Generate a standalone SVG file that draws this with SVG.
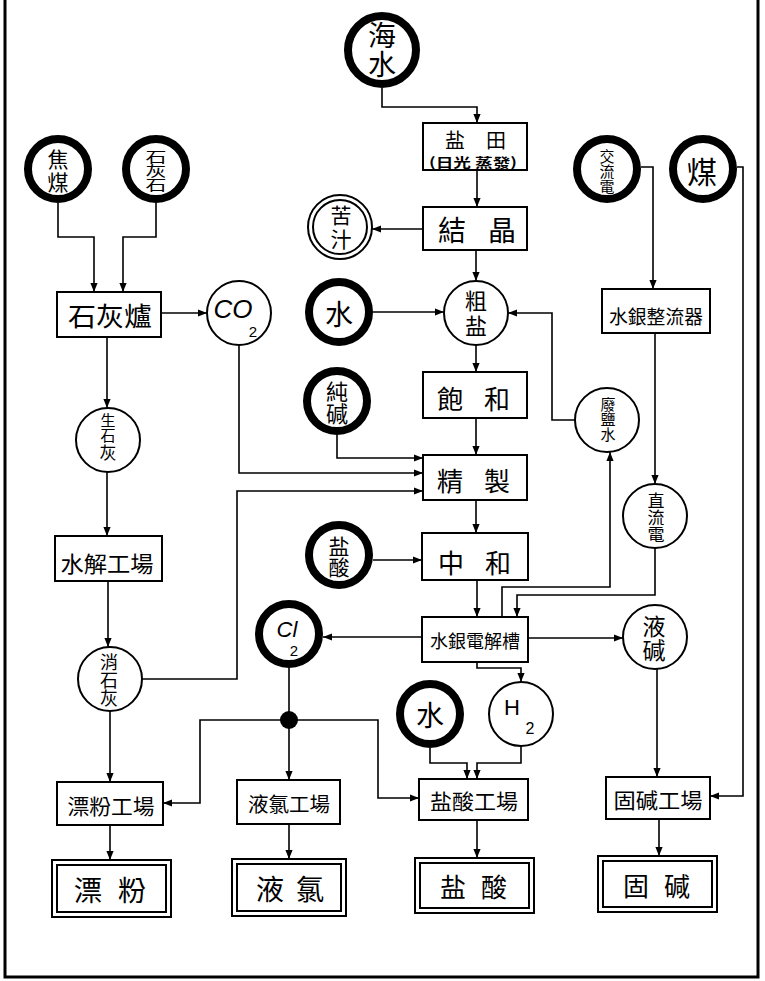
<svg xmlns="http://www.w3.org/2000/svg" width="765" height="981" viewBox="0 0 765 981">
<style>
.bx{fill:#fff;stroke:#000;stroke-width:2}
.th{fill:#fff;stroke:#000;stroke-width:8}
.tn{fill:#fff;stroke:#000;stroke-width:2}
.ln{fill:none;stroke:#000;stroke-width:1.6}
.ar{marker-end:url(#a)}
text{font-family:"Noto Sans CJK TC","Noto Sans CJK SC",sans-serif;fill:#000;text-anchor:middle;dominant-baseline:central}
.lat{font-family:"Liberation Sans",sans-serif}
</style>
<defs>
<marker id="a" viewBox="0 0 10 10" refX="10" refY="5" markerWidth="9" markerHeight="9" orient="auto" markerUnits="userSpaceOnUse"><path d="M0,1 L10,5 L0,9 z" fill="#000"/></marker>
</defs>
<rect width="765" height="981" fill="#fff"/>
<path d="M5,0 V977 H758 V0" fill="none" stroke="#000" stroke-width="3"/>

<g id="connectors">
<path class="ln ar" d="M382,88 V107 H477 V123"/>
<path class="ln ar" d="M477,170 V207"/>
<path class="ln ar" d="M423,229 H372"/>
<path class="ln ar" d="M476,250 V281"/>
<path class="ln ar" d="M373,312 H444"/>
<path class="ln ar" d="M575,420 H552 V313 H508"/>
<path class="ln ar" d="M476,345 V372"/>
<path class="ln ar" d="M476,418 V455"/>
<path class="ln ar" d="M337,435 V458 H423"/>
<path class="ln ar" d="M239,345 V473 H423"/>
<path class="ln ar" d="M142,679 H237 V491 H423"/>
<path class="ln ar" d="M476,500 V533"/>
<path class="ln ar" d="M373,560 H422"/>
<path class="ln ar" d="M477,580 V617"/>
<path class="ln ar" d="M422,637 H323"/>
<path class="ln ar" d="M502,617 V587 H610 V452"/>
<path class="ln ar" d="M655,548 V595 H517 V617"/>
<path class="ln ar" d="M528,638 H623"/>
<path class="ln ar" d="M477,662 V668 H521 V682"/>
<path class="ln ar" d="M430,748 V763 H467 V779"/>
<path class="ln ar" d="M521,746 V763 H477 V779"/>
<path class="ln" d="M289,668 V720"/>
<path class="ln ar" d="M289,720 H200 V803 H163"/>
<path class="ln ar" d="M289,720 V780"/>
<path class="ln ar" d="M289,720 H378 V798 H419"/>
<circle cx="289" cy="720" r="9" fill="#000"/>
<path class="ln ar" d="M110,825 V860"/>
<path class="ln ar" d="M289,824 V859"/>
<path class="ln ar" d="M477,820 V858"/>
<path class="ln ar" d="M58,203 V237 H94 V292"/>
<path class="ln ar" d="M156,203 V237 H123 V292"/>
<path class="ln ar" d="M161,313 H207"/>
<path class="ln ar" d="M107,337 V408"/>
<path class="ln ar" d="M107,472 V536"/>
<path class="ln ar" d="M108,581 V647"/>
<path class="ln ar" d="M110,711 V782"/>
<path class="ln ar" d="M641,167 H653 V289"/>
<path class="ln ar" d="M655,333 V484"/>
<path class="ln ar" d="M657,669 V777"/>
<path class="ln ar" d="M737,167 H743 V796 H710"/>
<path class="ln ar" d="M659,819 V856"/>
</g>

<g id="haishui"><circle class="th" cx="382" cy="50" r="34"/><text font-size="28"><tspan x="382" y="34">海</tspan><tspan x="382" y="63">水</tspan></text></g>
<g id="yantian"><rect class="bx" x="423" y="123" width="104" height="47"/><text x="455 496" y="139" font-size="20">盐田</text><text x="473" y="161" font-size="13" font-weight="bold" textLength="88" lengthAdjust="spacingAndGlyphs">(日光 蒸發)</text></g>
<g id="jiejing"><rect class="bx" x="423" y="207" width="104" height="43"/><text x="452 502" y="229" font-size="28">結晶</text></g>
<g id="kuzhi"><circle class="tn" cx="340" cy="227" r="32"/><circle class="tn" cx="340" cy="227" r="27"/><text font-size="21"><tspan x="341" y="214">苦</tspan><tspan x="341" y="238">汁</tspan></text></g>
<g id="shui1"><circle class="th" cx="339" cy="312" r="30"/><text x="339" y="313" font-size="28">水</text></g>
<g id="cuyan"><circle class="tn" cx="476" cy="313" r="32"/><text font-size="22"><tspan x="476" y="299">粗</tspan><tspan x="476" y="324">盐</tspan></text></g>
<g id="feiyanshui"><circle class="tn" cx="607" cy="420" r="32"/><text font-size="15"><tspan x="608" y="403">廢</tspan><tspan x="608" y="418">鹽</tspan><tspan x="608" y="433">水</tspan></text></g>
<g id="baohe"><rect class="bx" x="423" y="372" width="104" height="46"/><text x="450 497" y="397" font-size="26">飽和</text></g>
<g id="chunjian"><circle class="th" cx="337" cy="401" r="30"/><text font-size="22"><tspan x="337" y="390">純</tspan><tspan x="337" y="412">碱</tspan></text></g>
<g id="jingzhi"><rect class="bx" x="423" y="455" width="104" height="45"/><text x="450 497" y="479" font-size="26">精製</text></g>
<g id="zhonghe"><rect class="bx" x="422" y="533" width="106" height="47"/><text x="451 498" y="561" font-size="26">中和</text></g>
<g id="yansuan-src"><circle class="th" cx="339" cy="555" r="30"/><text font-size="21"><tspan x="339" y="545">盐</tspan><tspan x="339" y="566">酸</tspan></text></g>
<g id="dianjiecao"><rect class="bx" x="422" y="617" width="106" height="45"/><text x="475" y="640" font-size="18" textLength="90" lengthAdjust="spacingAndGlyphs">水銀電解槽</text></g>
<g id="cl2"><circle class="th" cx="289" cy="634" r="30"/><text class="lat" font-size="22"><tspan x="287" y="629" font-style="italic">Cl</tspan><tspan x="294" y="650" font-size="15">2</tspan></text></g>
<g id="h2"><circle class="tn" cx="521" cy="714" r="32"/><text class="lat" font-size="22"><tspan x="512" y="707">H</tspan><tspan x="530" y="728" font-size="16">2</tspan></text></g>
<g id="shui2"><circle class="th" cx="430" cy="714" r="30"/><text x="430" y="714" font-size="28">水</text></g>
<g id="yansuan-gc"><rect class="bx" x="419" y="779" width="109" height="41"/><text x="474" y="800" font-size="21" textLength="88" lengthAdjust="spacingAndGlyphs">盐酸工場</text></g>
<g id="yansuan"><rect class="bx" x="415" y="858" width="119" height="55"/><rect class="bx" x="420" y="863" width="109" height="45"/><text x="453 494" y="885" font-size="26">盐酸</text></g>
<g id="jiaomei"><circle class="th" cx="58" cy="169" r="30"/><text font-size="21"><tspan x="58" y="158">焦</tspan><tspan x="58" y="181">煤</tspan></text></g>
<g id="shihuishi"><circle class="th" cx="156" cy="169" r="30"/><text font-size="14" transform="translate(156,0) scale(1.5,1) translate(-156,0)"><tspan x="156" y="156">石</tspan><tspan x="156" y="170">灰</tspan><tspan x="156" y="184">石</tspan></text></g>
<g id="shihuilu"><rect class="bx" x="57" y="292" width="104" height="45"/><text x="110" y="314" font-size="26" textLength="84" lengthAdjust="spacingAndGlyphs">石灰爐</text></g>
<g id="co2"><circle class="tn" cx="239" cy="313" r="32"/><text class="lat" font-size="26"><tspan x="233" y="309" font-style="italic">CO</tspan><tspan x="253" y="331" font-size="15">2</tspan></text></g>
<g id="shengshihui"><circle class="tn" cx="108" cy="440" r="32"/><text font-size="15"><tspan x="108" y="419">生</tspan><tspan x="108" y="434">石</tspan><tspan x="108" y="451" font-size="17">灰</tspan></text></g>
<g id="shuijie"><rect class="bx" x="55" y="536" width="107" height="45"/><text x="107" y="562" font-size="22" textLength="93" lengthAdjust="spacingAndGlyphs">水解工場</text></g>
<g id="xiaoshihui"><circle class="tn" cx="110" cy="679" r="32"/><text font-size="18"><tspan x="109" y="661">消</tspan><tspan x="109" y="679">石</tspan><tspan x="109" y="697">灰</tspan></text></g>
<g id="piaofen-gc"><rect class="bx" x="57" y="782" width="106" height="43"/><text x="111" y="805" font-size="21" textLength="87" lengthAdjust="spacingAndGlyphs">漂粉工場</text></g>
<g id="piaofen"><rect class="bx" x="52" y="860" width="119" height="57"/><rect class="bx" x="57" y="865" width="109" height="47"/><text x="88 132" y="889" font-size="28">漂粉</text></g>
<g id="yeluu-gc"><rect class="bx" x="237" y="780" width="103" height="44"/><text x="289" y="803" font-size="20" textLength="82" lengthAdjust="spacingAndGlyphs">液氯工場</text></g>
<g id="yeluu"><rect class="bx" x="232" y="859" width="114" height="57"/><rect class="bx" x="237" y="864" width="104" height="47"/><text x="270 310" y="888" font-size="28">液氯</text></g>
<g id="jiaoliudian"><circle class="th" cx="607" cy="169" r="30"/><text font-size="15"><tspan x="607" y="155">交</tspan><tspan x="607" y="170">流</tspan><tspan x="607" y="185">電</tspan></text></g>
<g id="mei"><circle class="th" cx="703" cy="169" r="30"/><text x="702" y="170" font-size="30">煤</text></g>
<g id="zhengliuqi"><rect class="bx" x="602" y="289" width="108" height="44"/><text x="656" y="315" font-size="19" textLength="94" lengthAdjust="spacingAndGlyphs">水銀整流器</text></g>
<g id="zhiliudian"><circle class="tn" cx="655" cy="516" r="32"/><text font-size="17"><tspan x="656" y="499">直</tspan><tspan x="656" y="516">流</tspan><tspan x="656" y="533">電</tspan></text></g>
<g id="yejian"><circle class="tn" cx="655" cy="637" r="32"/><text font-size="23"><tspan x="654" y="625">液</tspan><tspan x="654" y="649">碱</tspan></text></g>
<g id="gujian-gc"><rect class="bx" x="606" y="777" width="104" height="42"/><text x="658" y="799" font-size="21" textLength="89" lengthAdjust="spacingAndGlyphs">固碱工場</text></g>
<g id="gujian"><rect class="bx" x="598" y="856" width="119" height="56"/><rect class="bx" x="603" y="861" width="109" height="46"/><text x="636 677" y="884" font-size="26">固碱</text></g>
</svg>
